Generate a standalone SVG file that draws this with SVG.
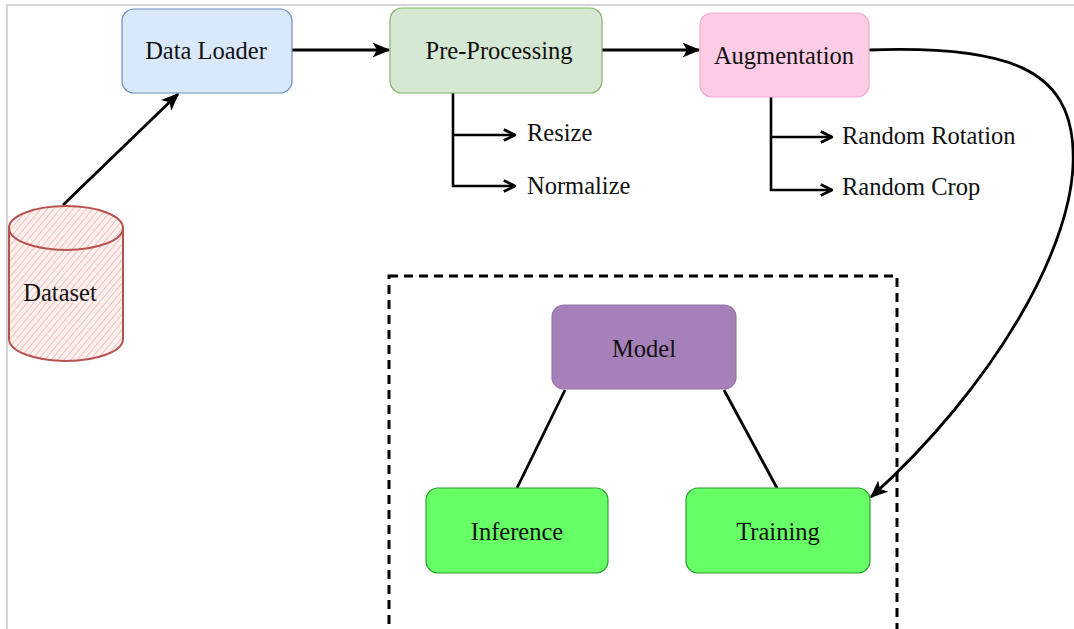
<svg xmlns="http://www.w3.org/2000/svg" width="1074" height="629" viewBox="0 0 1074 629">
  <defs>
    <style>
      .lbl { font-family: "Liberation Serif", "DejaVu Serif", serif; font-size: 24.5px; fill: #111; text-anchor: middle; dominant-baseline: central; }
      .sub { font-family: "Liberation Serif", "DejaVu Serif", serif; font-size: 24.5px; fill: #111; }
      .edge { fill: none; stroke: #000; stroke-width: 2.8; }
      .branch { fill: none; stroke: #000; stroke-width: 2.6; }
    </style>
    <marker id="classic" viewBox="0 0 12 10" refX="11" refY="5" markerWidth="18" markerHeight="15" markerUnits="userSpaceOnUse" orient="auto">
      <path d="M0,0 L12,5 L0,10 L3,5 Z" fill="#000"/>
    </marker>
    <marker id="open" viewBox="0 0 10 10" refX="9" refY="5" markerWidth="14" markerHeight="14" markerUnits="userSpaceOnUse" orient="auto">
      <path d="M1,1 L9,5 L1,9" fill="none" stroke="#000" stroke-width="2"/>
    </marker>
    <pattern id="hatch" width="5" height="5" patternUnits="userSpaceOnUse" patternTransform="rotate(40)">
      <rect width="5" height="5" fill="#fdf1f0"/>
      <line x1="0" y1="0" x2="0" y2="5" stroke="#eeb3af" stroke-width="1.6"/>
    </pattern>
  </defs>

  <rect width="1074" height="629" fill="#ffffff"/>
  <!-- page frame -->
  <path d="M7,629 L7,5 L1074,5" fill="none" stroke="#d6d6d6" stroke-width="2"/>

  <!-- model group boundary -->
  <rect id="model-group" x="389" y="276" width="508" height="356" fill="none" stroke="#000" stroke-width="3" stroke-dasharray="9 6"/>

  <g id="connectors">
    <line class="edge" x1="63" y1="205" x2="178" y2="94" marker-end="url(#classic)"/>
    <line class="edge" x1="291" y1="50" x2="389" y2="50" marker-end="url(#classic)"/>
    <line class="edge" x1="602" y1="50" x2="699" y2="50" marker-end="url(#classic)"/>
    <path class="edge" d="M869,50 C1010,45 1070,70 1073,150 C1078,245 990,390 871,497" marker-end="url(#classic)"/>
    <line class="edge" x1="565" y1="390" x2="517" y2="488"/>
    <line class="edge" x1="724" y1="390" x2="777" y2="488"/>
    <!-- pre-processing steps -->
    <path class="branch" d="M453,93 L453,186 L515,186" marker-end="url(#open)"/>
    <line class="branch" x1="453" y1="135" x2="515" y2="135" marker-end="url(#open)"/>
    <!-- augmentation steps -->
    <path class="branch" d="M771,97 L771,190 L832,190" marker-end="url(#open)"/>
    <line class="branch" x1="771" y1="137" x2="832" y2="137" marker-end="url(#open)"/>
  </g>

  <g id="dataset">
    <path d="M9,228 L9,339 A57,22 0 0 0 123,339 L123,228 A57,22 0 0 0 9,228 Z" fill="url(#hatch)" stroke="#b85450" stroke-width="2"/>
    <path d="M9,228 A57,22 0 0 0 123,228" fill="none" stroke="#b85450" stroke-width="2"/>
    <text class="lbl" x="60" y="292">Dataset</text>
  </g>

  <g id="data-loader">
    <rect x="122" y="9" width="170" height="84" rx="12" fill="#dae8fc" stroke="#6c8ebf" stroke-width="1.2"/>
    <text class="lbl" x="206" y="50">Data Loader</text>
  </g>

  <g id="pre-processing">
    <rect x="390" y="8" width="212" height="85" rx="12" fill="#d5e8d4" stroke="#82b366" stroke-width="1.2"/>
    <text class="lbl" x="499" y="50">Pre-Processing</text>
  </g>
  <text class="sub" x="527" y="141">Resize</text>
  <text class="sub" x="527" y="194">Normalize</text>

  <g id="augmentation">
    <rect x="700" y="13" width="169" height="84" rx="12" fill="#ffcce6" stroke="#f3a7cf" stroke-width="1.2"/>
    <text class="lbl" x="784" y="55">Augmentation</text>
  </g>
  <text class="sub" x="842" y="144">Random Rotation</text>
  <text class="sub" x="842" y="195">Random Crop</text>

  <g id="model">
    <rect x="552" y="305" width="184" height="84" rx="12" fill="#a680b8" stroke="#9673a6" stroke-width="1.2"/>
    <text class="lbl" x="644" y="348">Model</text>
  </g>

  <g id="inference">
    <rect x="426" y="488" width="182" height="85" rx="12" fill="#66ff66" stroke="#2f9e2f" stroke-width="1.2"/>
    <text class="lbl" x="517" y="531">Inference</text>
  </g>

  <g id="training">
    <rect x="686" y="488" width="184" height="85" rx="12" fill="#66ff66" stroke="#2f9e2f" stroke-width="1.2"/>
    <text class="lbl" x="778" y="531">Training</text>
  </g>
</svg>
